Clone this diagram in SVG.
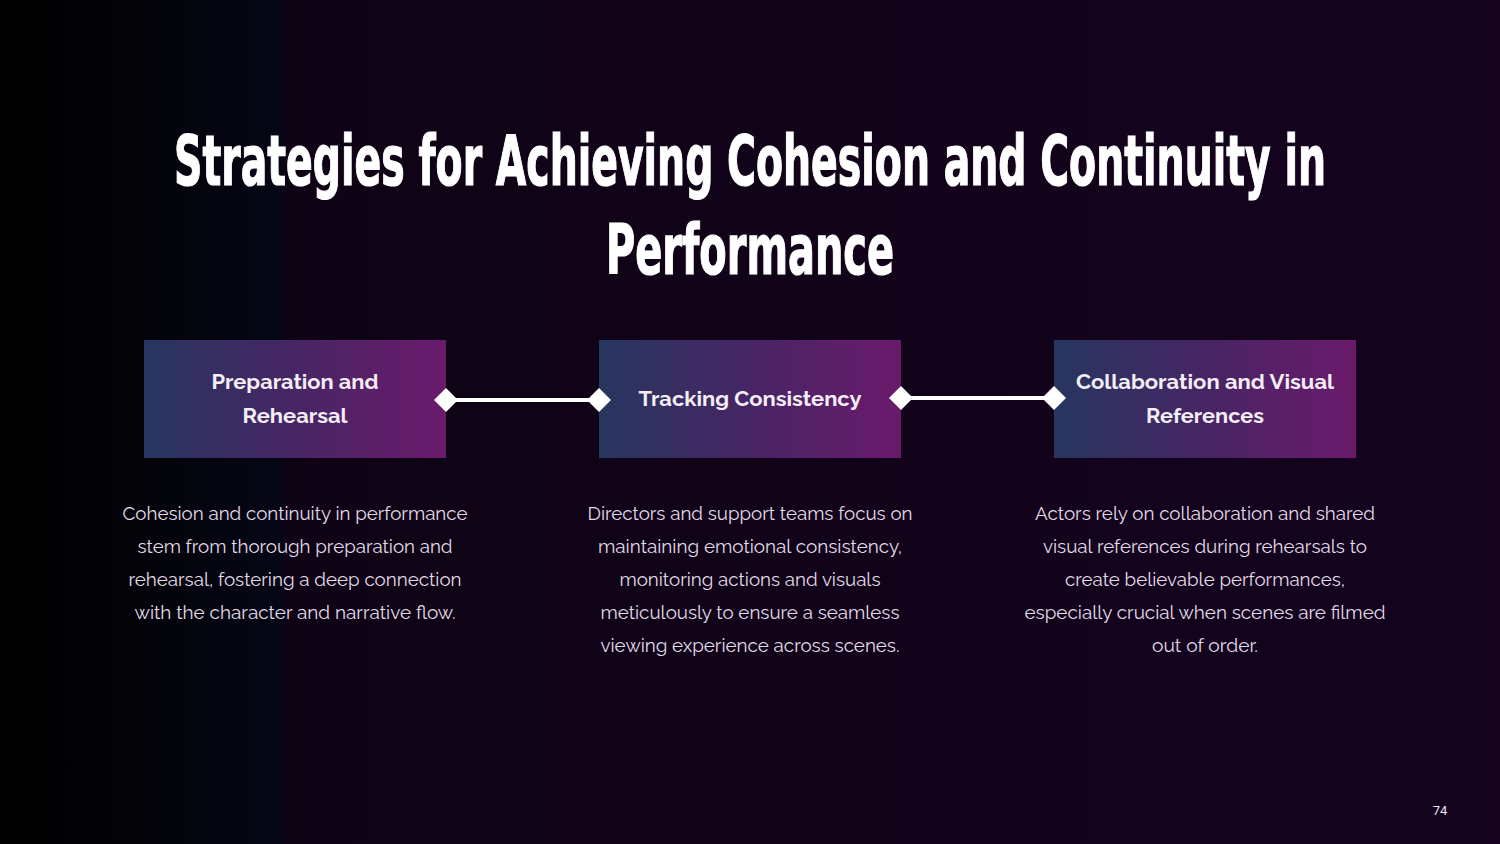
<svg xmlns="http://www.w3.org/2000/svg" width="1500" height="844" viewBox="0 0 1500 844">
<defs>
<linearGradient id="bgL" x1="0" y1="0" x2="1" y2="0">
<stop offset="0" stop-color="#000000"/>
<stop offset="0.5" stop-color="#030309"/>
<stop offset="1" stop-color="#060716"/>
</linearGradient>
<linearGradient id="bgR" x1="0" y1="0" x2="1" y2="0">
<stop offset="0" stop-color="#0d0312"/>
<stop offset="1" stop-color="#15031f"/>
</linearGradient>
<linearGradient id="box" x1="0" y1="0" x2="1" y2="0">
<stop offset="0" stop-color="#27365f"/>
<stop offset="0.5" stop-color="#472565"/>
<stop offset="1" stop-color="#6a1a6b"/>
</linearGradient>
<marker id="dia" viewBox="-6 -6 12 12" markerWidth="6" markerHeight="6" refX="0" refY="0" markerUnits="strokeWidth" orient="auto">
<path d="M-6 0 L0 -6 L6 0 L0 6 Z" fill="#ffffff"/>
</marker>
<style>
.title{font-family:"Liberation Sans Narrow","DejaVu Sans Condensed","Liberation Sans",sans-serif;font-weight:700;font-size:69px;fill:#ffffff;text-anchor:middle;stroke:#ffffff;stroke-width:1.2}
.head{font-family:Raleway,"Open Sans","Lato",sans-serif;font-weight:700;font-size:21px;fill:#f4eef6;text-anchor:middle}
.body{font-family:Raleway,"Lato","Open Sans",sans-serif;font-weight:400;font-size:19px;fill:#e2dbe8;text-anchor:middle}
.conn{stroke:#ffffff;stroke-width:4;fill:none}
.pg{font-family:Roboto,"Liberation Sans",sans-serif;font-size:13px;fill:#e8e4ec;text-anchor:middle}
</style>
</defs>
<rect x="0" y="0" width="1500" height="844" fill="url(#bgR)"/>
<rect x="0" y="0" width="283" height="844" fill="url(#bgL)"/>

<g id="title">
<text class="title" x="750" y="185" textLength="1152" lengthAdjust="spacingAndGlyphs">Strategies for Achieving Cohesion and Continuity in</text>
<text class="title" x="750" y="274" textLength="288" lengthAdjust="spacingAndGlyphs">Performance</text>
</g>

<g id="node-preparation">
<rect x="144" y="340" width="302" height="118" fill="url(#box)"/>
<text class="head" x="295" y="389" textLength="167" lengthAdjust="spacingAndGlyphs">Preparation and</text>
<text class="head" x="295" y="423" textLength="105" lengthAdjust="spacingAndGlyphs">Rehearsal</text>
</g>

<g id="node-tracking">
<rect x="599" y="340" width="302" height="118" fill="url(#box)"/>
<text class="head" x="750" y="406" textLength="223" lengthAdjust="spacingAndGlyphs">Tracking Consistency</text>
</g>

<g id="node-collaboration">
<rect x="1054" y="340" width="302" height="118" fill="url(#box)"/>
<text class="head" x="1205" y="389" textLength="258" lengthAdjust="spacingAndGlyphs">Collaboration and Visual</text>
<text class="head" x="1205" y="423" textLength="118" lengthAdjust="spacingAndGlyphs">References</text>
</g>

<g id="connectors">
<line class="conn" x1="446" y1="400" x2="599" y2="400" marker-start="url(#dia)" marker-end="url(#dia)"/>
<line class="conn" x1="901" y1="398" x2="1054" y2="398" marker-start="url(#dia)" marker-end="url(#dia)"/>
</g>

<g id="desc-preparation">
<text class="body" x="295" y="520" textLength="345" lengthAdjust="spacingAndGlyphs">Cohesion and continuity in performance</text>
<text class="body" x="295" y="553" textLength="315" lengthAdjust="spacingAndGlyphs">stem from thorough preparation and</text>
<text class="body" x="295" y="586" textLength="333" lengthAdjust="spacingAndGlyphs">rehearsal, fostering a deep connection</text>
<text class="body" x="295" y="619" textLength="321" lengthAdjust="spacingAndGlyphs">with the character and narrative flow.</text>
</g>

<g id="desc-tracking">
<text class="body" x="750" y="520" textLength="325" lengthAdjust="spacingAndGlyphs">Directors and support teams focus on</text>
<text class="body" x="750" y="553" textLength="304" lengthAdjust="spacingAndGlyphs">maintaining emotional consistency,</text>
<text class="body" x="750" y="586" textLength="261" lengthAdjust="spacingAndGlyphs">monitoring actions and visuals</text>
<text class="body" x="750" y="619" textLength="299" lengthAdjust="spacingAndGlyphs">meticulously to ensure a seamless</text>
<text class="body" x="750" y="652" textLength="299" lengthAdjust="spacingAndGlyphs">viewing experience across scenes.</text>
</g>

<g id="desc-collaboration">
<text class="body" x="1205" y="520" textLength="340" lengthAdjust="spacingAndGlyphs">Actors rely on collaboration and shared</text>
<text class="body" x="1205" y="553" textLength="324" lengthAdjust="spacingAndGlyphs">visual references during rehearsals to</text>
<text class="body" x="1205" y="586" textLength="280" lengthAdjust="spacingAndGlyphs">create believable performances,</text>
<text class="body" x="1205" y="619" textLength="361" lengthAdjust="spacingAndGlyphs">especially crucial when scenes are filmed</text>
<text class="body" x="1205" y="652" textLength="106" lengthAdjust="spacingAndGlyphs">out of order.</text>
</g>

<text class="pg" x="1440" y="815">74</text>
</svg>
